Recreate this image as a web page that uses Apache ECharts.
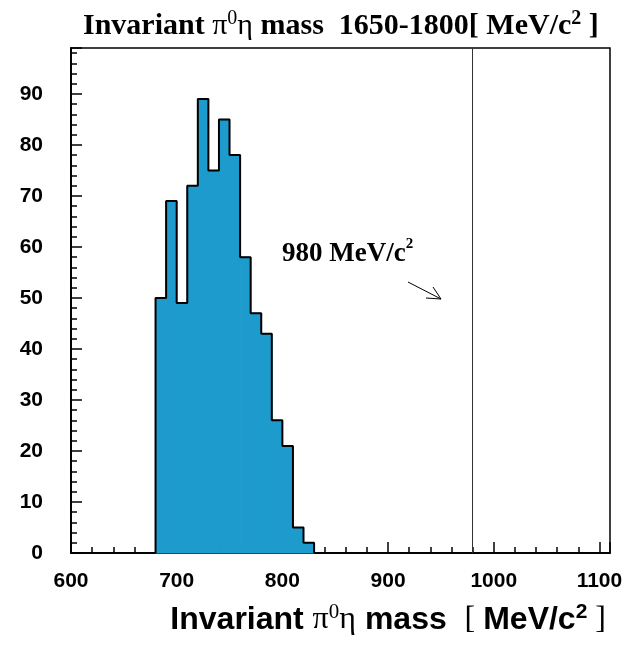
<!DOCTYPE html>
<html>
<head>
<meta charset="utf-8">
<script src="https://cdn.jsdelivr.net/npm/echarts@6/dist/echarts.min.js"></script>
<style>
  html, body { margin: 0; padding: 0; background: #fff; }
  #chart { width: 644px; height: 645px; }
</style>
</head>
<body>
<div id="chart"></div>
<script>
// Histogram of the pi0-eta invariant mass, 10 MeV bins
const binLowEdges = [680, 690, 700, 710, 720, 730, 740, 750, 760, 770, 780, 790, 800, 810, 820];
const binWidth = 10;
const counts = [50, 69, 49, 72, 89, 75, 85, 78, 58, 47, 43, 26, 21, 5, 2];

// Axis ranges and tick spacing
const xRange = [600, 1110];
const yRange = [0, 99];
const xMajor = 100, xMinor = 20;
const yMajor = 10, yMinor = 2;

// Reference mass marker
const markerMass = 980;

const fill = '#1d9bcd';
const serif = 'Liberation Serif';
const sans = 'Liberation Sans';

// Step outline through the bin tops
const outline = [[binLowEdges[0], 0]];
binLowEdges.forEach((x0, i) => {
  outline.push([x0, counts[i]]);
  outline.push([x0 + binWidth, counts[i]]);
});
outline.push([binLowEdges[binLowEdges.length - 1] + binWidth, 0]);

const bins = binLowEdges.map((x0, i) => [x0, x0 + binWidth, counts[i]]);

const chart = echarts.init(document.getElementById('chart'), null, { renderer: 'canvas' });

const grid = { left: 71, right: 34, top: 48, bottom: 92, show: true, borderColor: '#000', borderWidth: 1.5, backgroundColor: 'transparent' };

function axisBase(extra) {
  return Object.assign({
    type: 'value',
    splitLine: { show: false },
    axisLine: { show: true, lineStyle: { color: '#000', width: 1.5 } },
  }, extra);
}

chart.setOption({
  animation: false,
  backgroundColor: '#fff',
  title: {
    text: '{a|Invariant }{g|π}{z|0}{g|η}{a| mass  1650-1800[ MeV/c}{s|2}{a| ]}',
    left: 83,
    top: 9,
    padding: 0,
    textStyle: {
      rich: {
        a: { fontFamily: serif, fontWeight: 'bold', fontSize: 30, lineHeight: 34, color: '#000' },
        g: { fontFamily: serif, fontWeight: 'normal', fontSize: 30, lineHeight: 34, color: '#000' },
        z: { fontFamily: serif, fontWeight: 'normal', fontSize: 20, lineHeight: 13, color: '#000', verticalAlign: 'top' },
        s: { fontFamily: serif, fontWeight: 'bold', fontSize: 20, lineHeight: 13.5, color: '#000', verticalAlign: 'top' }
      }
    }
  },
  grid: grid,
  xAxis: [
    axisBase({
      min: xRange[0], max: xRange[1], interval: xMajor,
      axisTick: { show: true, inside: true, length: 11, lineStyle: { color: '#000', width: 1.5 } },
      axisLabel: {
        margin: 18, fontFamily: sans, fontWeight: 'bold', fontSize: 21, color: '#000',
        formatter: v => (v % xMajor === 0 ? String(v) : '')
      }
    }),
    axisBase({
      min: xRange[0], max: xRange[1], interval: xMinor, position: 'bottom',
      axisTick: { show: true, inside: true, length: 6, lineStyle: { color: '#000', width: 1.5 } },
      axisLabel: { show: false }
    })
  ],
  yAxis: [
    axisBase({
      min: yRange[0], max: yRange[1], interval: yMajor,
      axisTick: { show: true, inside: true, length: 11, lineStyle: { color: '#000', width: 1.5 } },
      axisLabel: {
        margin: 28, fontFamily: sans, fontWeight: 'bold', fontSize: 21, color: '#000',
        formatter: v => (v % yMajor === 0 ? String(v) : '')
      }
    }),
    axisBase({
      min: yRange[0], max: yRange[1], interval: yMinor, position: 'left',
      axisTick: { show: true, inside: true, length: 6, lineStyle: { color: '#000', width: 1.5 } },
      axisLabel: { show: false }
    })
  ],
  series: [
    {
      type: 'custom',
      xAxisIndex: 0, yAxisIndex: 0,
      data: bins,
      encode: { x: [0, 1], y: 2 },
      renderItem: function (params, api) {
        const p0 = api.coord([api.value(0), 0]);
        const p1 = api.coord([api.value(1), api.value(2)]);
        return {
          type: 'rect',
          shape: { x: p0[0], y: p1[1], width: p1[0] - p0[0], height: p0[1] - p1[1] },
          style: { fill: fill, stroke: fill, lineWidth: 1 }
        };
      },
      z: 2
    },
    {
      type: 'line',
      xAxisIndex: 0, yAxisIndex: 0,
      data: outline,
      symbol: 'none',
      lineStyle: { color: '#000', width: 2 },
      z: 3,
      markLine: {
        silent: true,
        symbol: 'none',
        label: { show: false },
        lineStyle: { color: '#333', width: 1, type: 'solid' },
        data: [{ xAxis: markerMass }]
      }
    }
  ],
  graphic: [
    {
      type: 'text',
      x: 606, y: 620,
      style: {
        text: '{a|Invariant }{g|π}{z|0}{g|η}{a| mass  }{n|[ }{a|MeV/c}{s|2}{n| ]}',
        align: 'right',
        verticalAlign: 'middle',
        rich: {
          a: { fontFamily: sans, fontWeight: 'bold', fontSize: 32, lineHeight: 36, fill: '#000' },
          g: { fontFamily: serif, fontWeight: 'normal', fontSize: 32, lineHeight: 36, fill: '#000' },
          n: { fontFamily: serif, fontWeight: 'normal', fontSize: 32, lineHeight: 36, fill: '#000' },
          z: { fontFamily: serif, fontWeight: 'normal', fontSize: 21, lineHeight: 13, fill: '#000', verticalAlign: 'top' },
          s: { fontFamily: sans, fontWeight: 'bold', fontSize: 21, lineHeight: 13.5, fill: '#000', verticalAlign: 'top' }
        }
      }
    },
    {
      type: 'text',
      x: 282, y: 254,
      style: {
        text: '{a|980 MeV/c}{s|2}',
        align: 'left',
        verticalAlign: 'middle',
        rich: {
          a: { fontFamily: serif, fontWeight: 'bold', fontSize: 27, lineHeight: 34, fill: '#000' },
          s: { fontFamily: serif, fontWeight: 'bold', fontSize: 15, lineHeight: 13.5, fill: '#000', verticalAlign: 'top' }
        }
      }
    },
    {
      type: 'group',
      children: [
        { type: 'line', shape: { x1: 408, y1: 282, x2: 441, y2: 299 }, style: { stroke: '#000', lineWidth: 1 } },
        { type: 'line', shape: { x1: 441, y1: 299, x2: 426, y2: 298 }, style: { stroke: '#000', lineWidth: 1 } },
        { type: 'line', shape: { x1: 441, y1: 299, x2: 433, y2: 287 }, style: { stroke: '#000', lineWidth: 1 } }
      ]
    }
  ]
});
</script>
</body>
</html>
